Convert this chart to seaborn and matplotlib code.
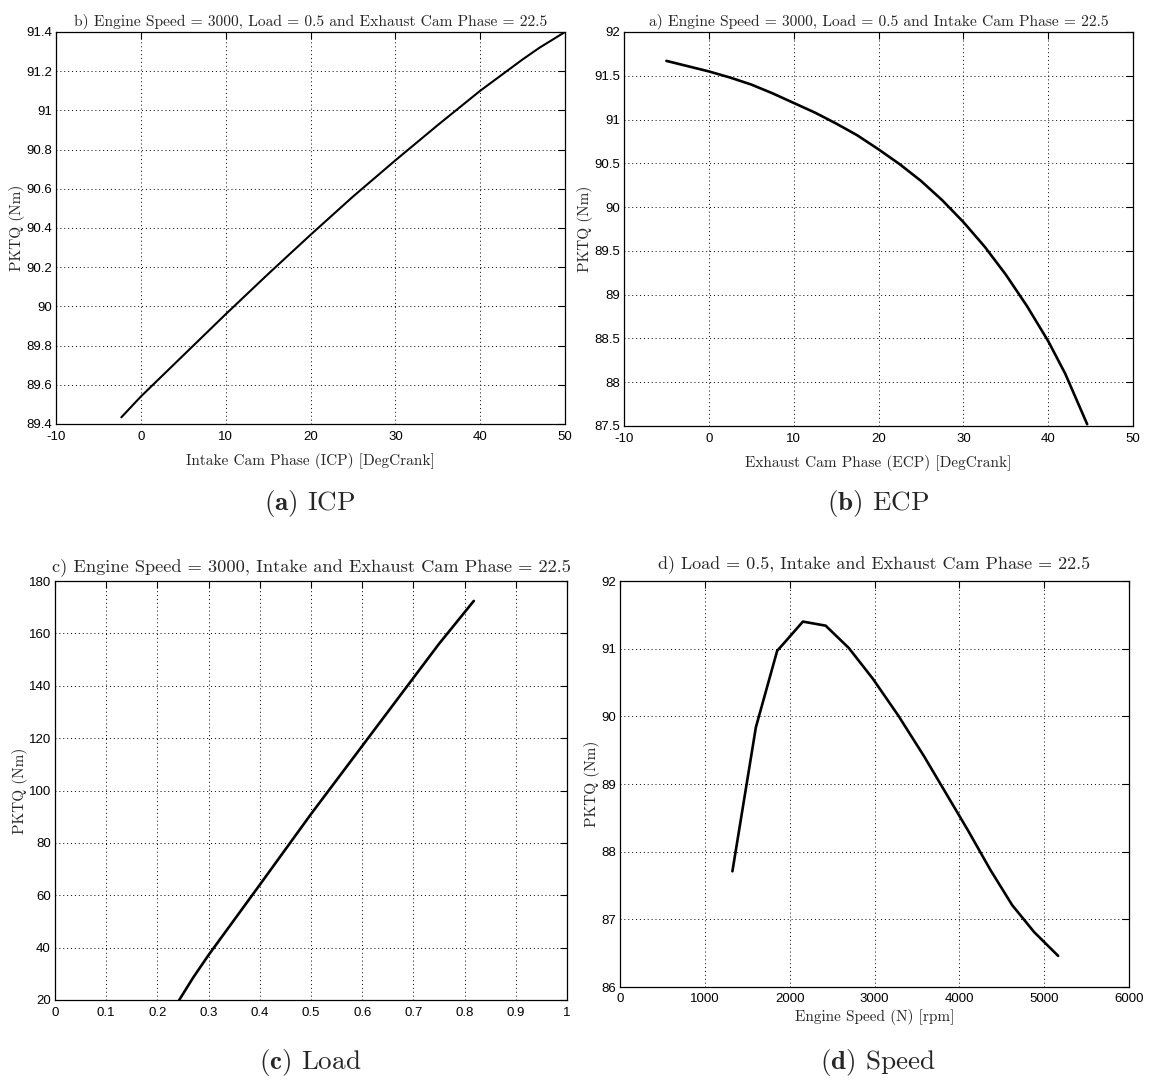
import numpy as np
import pandas as pd
import matplotlib
matplotlib.use("Agg")
import matplotlib.pyplot as plt
from matplotlib.ticker import FuncFormatter
import seaborn as sns

# ---------------- data ----------------
icp_x = [-2.3, 0, 5, 10, 15, 20, 25, 30, 35, 40, 45, 47, 50]
icp_y = [89.434, 89.54, 89.75, 89.96, 90.165, 90.365, 90.56, 90.745, 90.925, 91.10, 91.26, 91.32, 91.40]

ecp_x = [-5.0, -2.5, 0, 2.5, 5, 7.5, 10, 12.5, 15, 17.5, 20, 22.5, 25, 27.5, 30, 32.5, 35, 37.5, 40, 42, 44.6]
ecp_y = [91.67, 91.61, 91.55, 91.48, 91.40, 91.30, 91.19, 91.08, 90.955, 90.82, 90.66, 90.49, 90.30,
         90.08, 89.83, 89.55, 89.23, 88.87, 88.47, 88.10, 87.52]

load_x = [0.2426, 0.27, 0.30, 0.35, 0.40, 0.45, 0.50, 0.55, 0.60, 0.65, 0.70, 0.75, 0.818]
load_y = [20.0, 28.6, 37.2, 50.6, 64.0, 77.5, 91.0, 104.0, 117.0, 130.0, 143.0, 156.0, 172.4]

speed_x = [1325, 1602, 1853, 1918, 2156, 2424, 2697, 2978, 3281, 3584, 3844, 4104, 4364, 4623, 4883, 5165]
speed_y = [87.71, 89.84, 90.97, 91.06, 91.40, 91.34, 91.01, 90.56, 90.01, 89.41, 88.86, 88.31, 87.735, 87.21, 86.81, 86.46]

titles = [
    "b) Engine Speed = 3000, Load = 0.5 and Exhaust Cam Phase = 22.5",
    "a) Engine Speed = 3000, Load = 0.5 and Intake Cam Phase = 22.5",
    "c) Engine Speed = 3000, Intake and Exhaust Cam Phase = 22.5",
    "d) Load = 0.5, Intake and Exhaust Cam Phase = 22.5",
]
xlabels = [
    "Intake Cam Phase (ICP) [DegCrank]",
    "Exhaust Cam Phase (ECP) [DegCrank]",
    "",
    "Engine Speed (N) [rpm]",
]
ylabel = "PKTQ (Nm)"
captions = [("(a)", "ICP"), ("(b)", "ECP"), ("(c)", "Load"), ("(d)", "Speed")]

icp_xticks = [-10, 0, 10, 20, 30, 40, 50]
icp_yticks = [89.4, 89.6, 89.8, 90.0, 90.2, 90.4, 90.6, 90.8, 91.0, 91.2, 91.4]
ecp_xticks = [-10, 0, 10, 20, 30, 40, 50]
ecp_yticks = [87.5, 88.0, 88.5, 89.0, 89.5, 90.0, 90.5, 91.0, 91.5, 92.0]
load_xticks = [0, 0.1, 0.2, 0.3, 0.4, 0.5, 0.6, 0.7, 0.8, 0.9, 1.0]
load_yticks = [20, 40, 60, 80, 100, 120, 140, 160, 180]
speed_xticks = [0, 1000, 2000, 3000, 4000, 5000, 6000]
speed_yticks = [86, 87, 88, 89, 90, 91, 92]

# ---------------- style ----------------
sns.set_style("white")
plt.rcParams["font.family"] = ["Liberation Sans", "DejaVu Sans"]
plt.rcParams["mathtext.fontset"] = "cm"
plt.rcParams["axes.unicode_minus"] = False

W, H = 1155, 1081
fig = plt.figure(figsize=(W / 100, H / 100), dpi=100)
fig.patch.set_facecolor("white")

def px_axes(left, right, top, bottom):
    return fig.add_axes([left / W, 1 - bottom / H, (right - left) / W, (bottom - top) / H])

axes = [
    px_axes(56, 565, 32, 424),
    px_axes(624, 1133, 32, 426),
    px_axes(55, 567, 581, 1000),
    px_axes(620, 1129, 581, 987),
]

datasets = [
    (icp_x, icp_y, icp_xticks, icp_yticks, 1.5),
    (ecp_x, ecp_y, ecp_xticks, ecp_yticks, 1.9),
    (load_x, load_y, load_xticks, load_yticks, 1.9),
    (speed_x, speed_y, speed_xticks, speed_yticks, 1.9),
]

title_sizes = [11.2, 11.2, 13.2, 13.0]
title_pads = [5, 5, 7, 9]
xlabel_pads = [7, 7, 4, 3]
ylabel_pads = [0.5, 0.5, 0.5, 0.5]
tick_pads = [5, 5, 5, 4]
serif = "cmr10"
fmt = FuncFormatter(lambda v, p: ("%g" % round(v, 6)))

for i, (ax, (xs, ys, xt, yt, lw)) in enumerate(zip(axes, datasets)):
    df = pd.DataFrame({"x": xs, "y": ys})
    sns.lineplot(data=df, x="x", y="y", ax=ax, color="black", lw=lw, sort=False,
                 estimator=None)
    ax.set_xlim(xt[0], xt[-1])
    ax.set_ylim(yt[0], yt[-1])
    ax.set_xticks(xt)
    ax.set_yticks(yt)
    ax.xaxis.set_major_formatter(fmt)
    ax.yaxis.set_major_formatter(fmt)
    ax.grid(True, linestyle=(0, (1, 3)), color="black", lw=0.7)
    ax.tick_params(direction="in", length=5, width=0.8, top=True, right=True,
                   labelsize=9.5, colors="black", pad=tick_pads[i])
    ax.tick_params(axis="y", pad=3)
    for s in ax.spines.values():
        s.set_color("black")
        s.set_linewidth(0.9)
    ax.set_title(titles[i], fontfamily=serif, fontsize=title_sizes[i], pad=title_pads[i])
    ax.set_xlabel(xlabels[i], fontfamily=serif, fontsize=11, labelpad=xlabel_pads[i])
    ax.set_ylabel(ylabel, fontfamily=serif, fontsize=11, labelpad=ylabel_pads[i])

cap_pos = [(310, 503), (878, 503), (310, 1062), (878, 1062)]
for (lab, word), (cx, cy) in zip(captions, cap_pos):
    fig.text(cx / W, 1 - cy / H, r"$\mathbf{" + lab + r"}$ " + word,
             fontfamily=serif, fontsize=19.5, ha="center", va="center")

fig.savefig("out.png", dpi=100, facecolor="white")
